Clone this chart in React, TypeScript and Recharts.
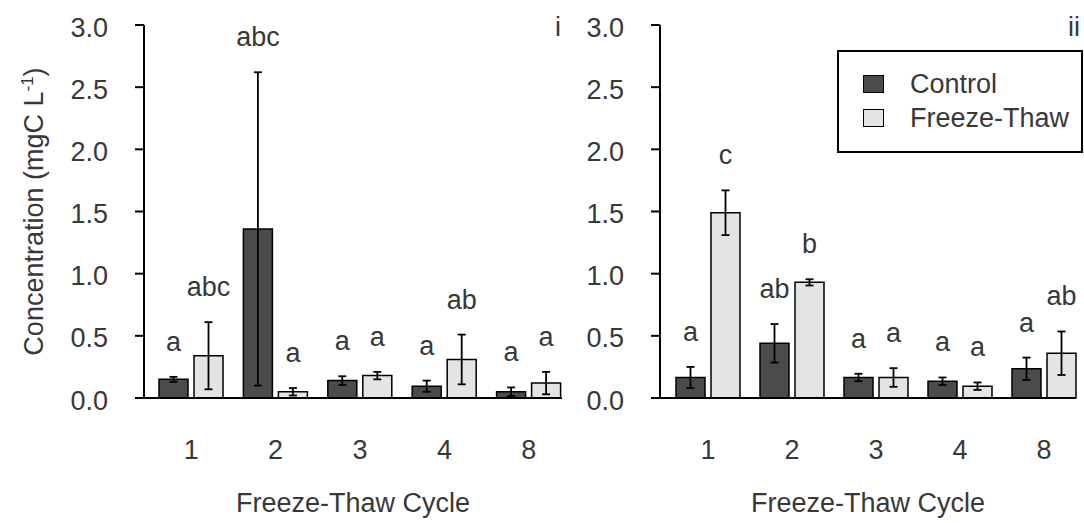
import React from "react";
import { Bar, BarChart, ErrorBar, LabelList, Legend, XAxis, YAxis } from "recharts";

const CYCLES = ["1", "2", "3", "4", "8"];
const Y_TICKS = [0, 0.5, 1, 1.5, 2, 2.5, 3];

// panel i
const CTL_I = [0.15, 1.36, 0.14, 0.095, 0.05];
const CTL_ERR_I = [0.02, 1.26, 0.035, 0.045, 0.035];
const FT_I = [0.34, 0.05, 0.18, 0.31, 0.12];
const FT_ERR_I = [0.27, 0.03, 0.03, 0.2, 0.09];
const CTL_LET_I = ["a", "abc", "a", "a", "a"];
const FT_LET_I = ["abc", "a", "a", "ab", "a"];

// panel ii
const CTL_II = [0.165, 0.44, 0.165, 0.135, 0.235];
const CTL_ERR_II = [0.085, 0.155, 0.03, 0.03, 0.09];
const FT_II = [1.49, 0.93, 0.165, 0.095, 0.36];
const FT_ERR_II = [0.18, 0.025, 0.075, 0.03, 0.175];
const CTL_LET_II = ["a", "ab", "a", "a", "a"];
const FT_LET_II = ["c", "b", "a", "a", "ab"];

const C = { ctl: "#4b4b4b", ft: "#e4e4e4", ink: "#000", text: "#383838" };
const FONT = "'Liberation Sans', Arial, sans-serif";
const FS = 27;
const TXT = { fill: C.text, fontSize: FS, fontFamily: FONT };

const rows = (ctl: number[], ctlErr: number[], ft: number[], ftErr: number[]) =>
  CYCLES.map((cycle, i) => ({ cycle, ctl: ctl[i], ctlErr: ctlErr[i], ft: ft[i], ftErr: ftErr[i] }));

// letter sits a fixed gap above the top of the error bar
const letters = (values: number[], errs: number[], lets: string[]) => (props: any) => {
  const vb = props.viewBox ?? props;
  const i = props.index;
  if (i == null || !vb) return null;
  const perUnit = vb.height / values[i];
  const top = vb.y - errs[i] * perUnit;
  return (
    <text x={vb.x + vb.width / 2} y={top - 26} textAnchor="middle" {...TXT}>
      {lets[i]}
    </text>
  );
};

function YLabel(props: any) {
  const vb = props.viewBox;
  const x = vb.x - 41;
  const y = vb.y + vb.height / 2;
  return (
    <text x={x} y={y} transform={`rotate(-90 ${x} ${y})`} textAnchor="middle" {...TXT}>
      Concentration (mgC L
      <tspan dy={-10} fontSize={17}>-1</tspan>
      <tspan dy={10}>)</tspan>
    </text>
  );
}

function LegendBox({ payload }: any) {
  const colors: Record<string, string> = { Control: C.ctl, "Freeze-Thaw": C.ft };
  return (
    <div
      style={{
        width: 246,
        height: 103,
        border: "2px solid #000",
        boxSizing: "border-box",
        paddingTop: 15,
        paddingLeft: 24,
        fontFamily: FONT,
        fontSize: FS,
        color: C.text,
        background: "#fff",
      }}
    >
      {(payload ?? []).map((p: any) => (
        <div key={p.value} style={{ display: "flex", alignItems: "center", height: 34 }}>
          <span
            style={{
              width: 21,
              height: 18,
              background: colors[p.value],
              border: "1.5px solid #000",
              boxSizing: "border-box",
            }}
          />
          <span style={{ marginLeft: 26, lineHeight: "34px" }}>{p.value}</span>
        </div>
      ))}
    </div>
  );
}

function Panel({
  data,
  ctl,
  ctlErr,
  ft,
  ftErr,
  ctlLet,
  ftLet,
  width,
  left,
  right,
  pad,
  tag,
  tagX,
  yLabel,
  legend,
}: any) {
  return (
    <BarChart
      width={width}
      height={523}
      data={data}
      margin={{ top: 25, right, bottom: 45, left }}
      barSize={29}
      barGap={6}
    >
      <XAxis
        dataKey="cycle"
        height={80}
        padding={pad}
        tickLine={false}
        tickSize={6}
        tickMargin={36}
        axisLine={{ stroke: C.ink, strokeWidth: 2 }}
        tick={TXT}
        label={{ value: "Freeze-Thaw Cycle", position: "bottom", offset: 15, ...TXT }}
      />
      <YAxis
        width={60}
        domain={[0, 3]}
        ticks={Y_TICKS}
        tickFormatter={(v: number) => v.toFixed(1)}
        tickSize={9}
        tickMargin={27}
        tickLine={{ stroke: C.ink, strokeWidth: 2 }}
        axisLine={{ stroke: C.ink, strokeWidth: 2 }}
        tick={{ ...TXT, dy: 2 }}
        label={yLabel ? <YLabel /> : undefined}
      />
      {legend && (
        <Legend
          layout="vertical"
          align="center"
          verticalAlign="middle"
          content={<LegendBox />}
          wrapperStyle={{ left: legend, top: 50, width: 246 }}
        />
      )}
      <Bar dataKey="ctl" name="Control" fill={C.ctl} stroke={C.ink} strokeWidth={1.5} isAnimationActive={false}>
        <ErrorBar dataKey="ctlErr" width={4} stroke={C.ink} strokeWidth={1.8} />
        <LabelList dataKey="ctl" content={letters(ctl, ctlErr, ctlLet)} />
      </Bar>
      <Bar dataKey="ft" name="Freeze-Thaw" fill={C.ft} stroke={C.ink} strokeWidth={1.5} isAnimationActive={false}>
        <ErrorBar dataKey="ftErr" width={4} stroke={C.ink} strokeWidth={1.8} />
        <LabelList dataKey="ft" content={letters(ft, ftErr, ftLet)} />
      </Bar>
      <text x={tagX} y={36} textAnchor="middle" {...TXT}>
        {tag}
      </text>
    </BarChart>
  );
}

export default function App() {
  return (
    <div style={{ position: "absolute", left: 0, top: 0, width: 1084, height: 523, background: "#fff" }}>
      <div style={{ position: "absolute", left: 0, top: 0 }}>
        <Panel
          data={rows(CTL_I, CTL_ERR_I, FT_I, FT_ERR_I)}
          ctl={CTL_I}
          ctlErr={CTL_ERR_I}
          ft={FT_I}
          ftErr={FT_ERR_I}
          ctlLet={CTL_LET_I}
          ftLet={FT_LET_I}
          width={580}
          left={84}
          right={18}
          pad={{ left: 5, right: -9 }}
          tag="i"
          tagX={558}
          yLabel
        />
      </div>
      <div style={{ position: "absolute", left: 580, top: 0 }}>
        <Panel
          data={rows(CTL_II, CTL_ERR_II, FT_II, FT_ERR_II)}
          ctl={CTL_II}
          ctlErr={CTL_ERR_II}
          ft={FT_II}
          ftErr={FT_ERR_II}
          ctlLet={CTL_LET_II}
          ftLet={FT_LET_II}
          width={504}
          left={20}
          right={8}
          pad={{ left: 6, right: -10 }}
          tag="ii"
          tagX={494}
          legend={257}
        />
      </div>
    </div>
  );
}
